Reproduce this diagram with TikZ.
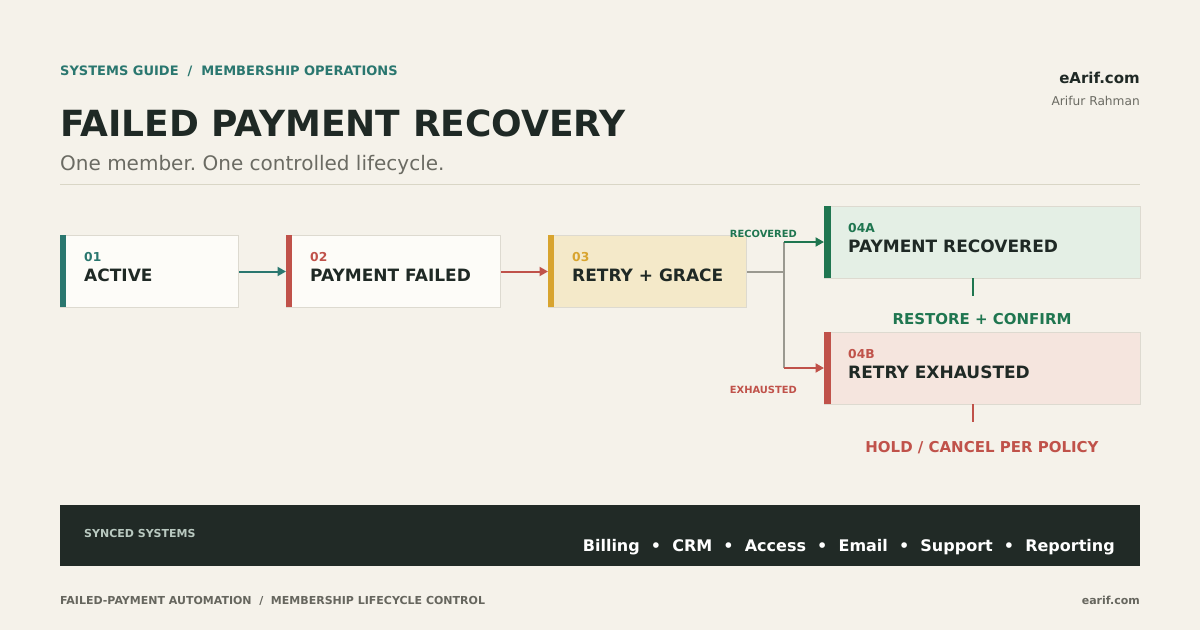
\documentclass[tikz,border=0pt]{standalone}
\usepackage{fontspec}
\setmainfont{DejaVu Sans}
\usetikzlibrary{arrows.meta}
\definecolor{bg}{HTML}{F5F2EA}
\definecolor{teal}{HTML}{2A776F}
\definecolor{ink}{HTML}{1F2925}
\definecolor{subgray}{HTML}{6B6B63}
\definecolor{rulec}{HTML}{D9D6C6}
\definecolor{redc}{HTML}{C0524A}
\definecolor{goldc}{HTML}{D8A42E}
\definecolor{greenc}{HTML}{1F7650}
\definecolor{boxw}{HTML}{FDFCF8}
\definecolor{boxline}{HTML}{DDDAD0}
\definecolor{fillgold}{HTML}{F4E9C9}
\definecolor{fillgreen}{HTML}{E4EFE5}
\definecolor{fillred}{HTML}{F5E5DE}
\definecolor{band}{HTML}{212A26}
\definecolor{bandtxt}{HTML}{B9C9C0}
\definecolor{foot}{HTML}{66665E}
\definecolor{conn}{HTML}{9A9990}
\newcommand{\fs}[1]{\fontsize{#1}{#1}\selectfont}
\frenchspacing
\begin{document}
\begin{tikzpicture}[x=1pt,y=-1pt,
  txt/.style={inner sep=0pt, anchor=base west},
  stage/.style={draw=boxline, line width=1pt, anchor=north west, minimum height=72pt, inner sep=0pt},
  num/.style={txt, font=\bfseries\fs{12.3}},
  ttl/.style={txt, font=\bfseries\fs{17}, text=ink},
  link/.style={line width=2pt, -{Triangle[length=8.5pt,width=9pt]}},
]
\useasboundingbox[fill=bg] (0,0) rectangle (1200,630);

% header
\node[txt, font=\bfseries\fs{13}, text=teal] (kicker) at (60,75) {SYSTEMS GUIDE\ \ /\ \ MEMBERSHIP OPERATIONS};
\node[txt, font=\bfseries\fs{36}, text=ink] (title) at (60,136) {FAILED PAYMENT RECOVERY};
\node[txt, font=\fs{20}, text=subgray] (subtitle) at (60,170) {One member. One controlled lifecycle.};
\node[inner sep=0pt, anchor=base east, font=\bfseries\fs{15}, text=ink] (brand) at (1140,83) {eArif.com};
\node[inner sep=0pt, anchor=base east, font=\fs{12.2}, text=subgray] (author) at (1140,105) {Arifur Rahman};
\draw[rulec, line width=1pt] (60,184.5) coordinate (r1) -- (1140,184.5) coordinate (r2);

% stages
\node[stage, fill=boxw, minimum width=178pt] (s1) at (60,235) {};
\fill[teal] (60,235) rectangle (66,307);
\node[num, text=teal] (n1) at (84,261) {01};
\node[ttl] (t1) at (84,281) {ACTIVE};

\node[stage, fill=boxw, minimum width=214pt] (s2) at (286,235) {};
\fill[redc] (286,235) rectangle (292,307);
\node[num, text=redc] (n2) at (310,261) {02};
\node[ttl] (t2) at (310,281) {PAYMENT FAILED};

\node[stage, fill=fillgold, minimum width=198pt] (s3) at (548,235) {};
\fill[goldc] (548,235) rectangle (554,307);
\node[num, text=goldc] (n3) at (572,261) {03};
\node[ttl] (t3) at (572,281) {RETRY + GRACE};

\node[stage, fill=fillgreen, minimum width=316pt] (s4a) at (824,206) {};
\fill[greenc] (824,206) rectangle (830.5,278);
\node[num, text=greenc] (n4a) at (848,232) {04A};
\node[ttl] (t4a) at (848,252) {PAYMENT RECOVERED};

\node[stage, fill=fillred, minimum width=316pt] (s4b) at (824,332) {};
\fill[redc] (824,332) rectangle (830.5,404);
\node[num, text=redc] (n4b) at (848,358) {04B};
\node[ttl] (t4b) at (848,378) {RETRY EXHAUSTED};

% connectors
\draw[link, teal] (s1.east |- 0,271.5) -- (s2.west |- 0,271.5);
\draw[link, redc] (s2.east |- 0,271.5) -- (s3.west |- 0,271.5);
\coordinate (fork) at (784,271.5);
\coordinate (up) at (784,242);
\coordinate (dn) at (784,368);
\draw[conn, line width=2pt] (s3.east |- fork) -- (fork);
\draw[conn, line width=2pt] (up) -- (dn);
\draw[link, greenc] (up) -- (s4a.west |- up);
\draw[link, redc] (dn) -- (s4b.west |- dn);
\node[inner sep=0pt, anchor=base east, font=\bfseries\fs{9.9}, text=greenc] (lrec) at (797,237) {RECOVERED};
\node[inner sep=0pt, anchor=base east, font=\bfseries\fs{9.9}, text=redc] (lexh) at (797,393) {EXHAUSTED};

\coordinate (g1) at (972.5,278);
\coordinate (g2) at (972.5,296);
\draw[greenc, line width=2pt] (g1) -- (g2);
\node[inner sep=0pt, anchor=base, font=\bfseries\fs{15}, text=greenc] (restore) at (982,324) {RESTORE + CONFIRM};
\coordinate (h1) at (972.5,404);
\coordinate (h2) at (972.5,422);
\draw[redc, line width=2pt] (h1) -- (h2);
\node[inner sep=0pt, anchor=base, font=\bfseries\fs{15}, text=redc] (hold) at (982,452) {HOLD / CANCEL PER POLICY};

% footer band
\node[fill=band, draw=none, anchor=north west, minimum width=1080pt, minimum height=61pt, inner sep=0pt] (bandn) at (60,505) {};
\node[txt, font=\bfseries\fs{11}, text=bandtxt] (synced) at (84,537) {SYNCED SYSTEMS};
\node[inner sep=0pt, anchor=base east, font=\bfseries\fs{16}, text=white] (systems) at (1115,551) {Billing\ \ •\ \ CRM\ \ •\ \ Access\ \ •\ \ Email\ \ •\ \ Support\ \ •\ \ Reporting};

\node[txt, font=\bfseries\fs{11}, text=foot] (foot1) at (60,604) {FAILED-PAYMENT AUTOMATION\ \ /\ \ MEMBERSHIP LIFECYCLE CONTROL};
\node[inner sep=0pt, anchor=base east, font=\bfseries\fs{11}, text=foot] (foot2) at (1140,604) {earif.com};
\end{tikzpicture}
\end{document}
